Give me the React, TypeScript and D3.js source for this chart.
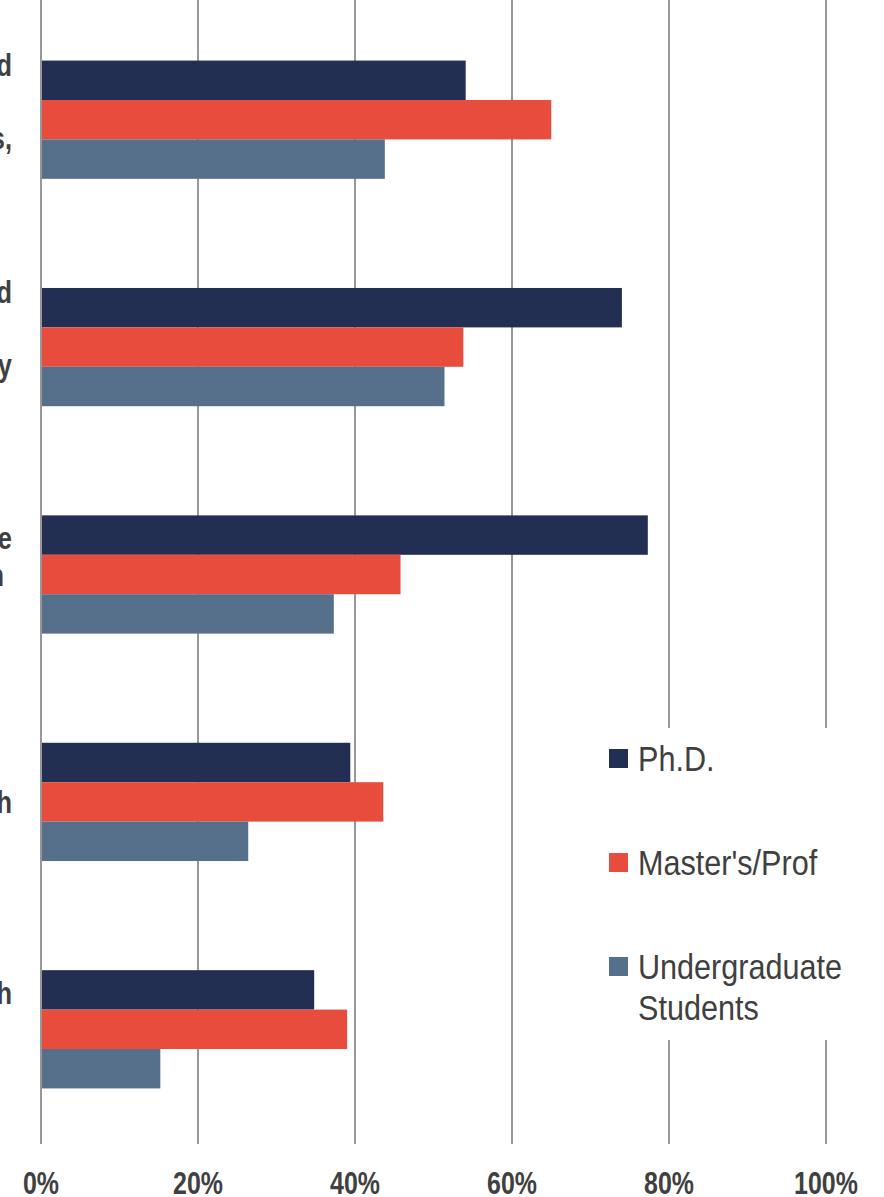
import React from "react";
import * as d3 from "d3";

const categories = ["c1", "c2", "c3", "c4", "c5"];
const series = ["Ph.D.", "Master's/Prof", "Undergraduate Students"];
const phd = [0.541, 0.74, 0.773, 0.394, 0.348];
const masters = [0.65, 0.538, 0.458, 0.436, 0.39];
const undergrad = [0.438, 0.514, 0.373, 0.264, 0.152];
const colors = ["#232f52", "#e84c3d", "#566f8b"];
const ticks = [0, 0.2, 0.4, 0.6, 0.8, 1.0];
// visible fragments of the (cropped) category labels, one entry per label line
const labelFragments = [
  ["d", "", "s,", ""],
  ["d", "", "y", ""],
  ["e", "n", ""],
  ["h"],
  ["h", "", ""],
];

const W = 884;
const H = 1197;
const FONT = "'Liberation Sans', Arial, sans-serif";

function NarrowText(props: {
  x: number;
  y: number;
  sx: number;
  anchor?: string;
  size: number;
  bold?: boolean;
  children: React.ReactNode;
}) {
  return (
    <text
      transform={`translate(${props.x},${props.y}) scale(${props.sx},1)`}
      textAnchor={props.anchor || "start"}
      fontFamily={FONT}
      fontWeight={props.bold ? "bold" : "normal"}
      fontSize={props.size}
      fill="#404040"
    >
      {props.children}
    </text>
  );
}

export default function App() {
  const x = d3.scaleLinear().domain([0, 1]).range([41, 826]);
  const y = d3.scaleBand().domain(categories).range([6, 1143]).paddingInner(0.48).paddingOuter(0.24);
  const inner = d3.scaleBand().domain(series).range([0, y.bandwidth()]);
  const values = [phd, masters, undergrad];
  const lineH = 36.5;

  return (
    <svg width={W} height={H} style={{ position: "absolute", left: 0, top: 0, background: "#fff" }}>
      {ticks.map((t) => (
        <line key={t} x1={x(t)} x2={x(t)} y1={0} y2={1144} stroke="#8c8c8c" strokeWidth={1.8} />
      ))}
      {categories.map((c, ci) =>
        series.map((s, si) => (
          <rect
            key={c + s}
            x={x(0) + 1}
            y={(y(c) as number) + (inner(s) as number)}
            width={x(values[si][ci]) - x(0) - 1}
            height={inner.bandwidth()}
            fill={colors[si]}
          />
        ))
      )}
      {categories.map((c, ci) => {
        const lines = labelFragments[ci];
        const center = (y(c) as number) + y.bandwidth() / 2;
        const first = center - ((lines.length - 1) * lineH) / 2 + 11;
        return lines.map((t, li) =>
          t ? (
            <NarrowText
              key={c + li}
              x={t === "n" ? 4 : 12}
              y={first + li * lineH}
              sx={0.82}
              anchor="end"
              size={31}
              bold
            >
              {t}
            </NarrowText>
          ) : null
        );
      })}
      {ticks.map((t) => (
        <NarrowText key={"t" + t} x={x(t)} y={1194} sx={0.78} anchor="middle" size={32} bold>
          {d3.format(".0%")(t)}
        </NarrowText>
      ))}
      <rect x={590} y={728} width={294} height={312} fill="#fff" />
      {series.map((s, si) => {
        const top = 749 + si * 104;
        const words = si === 2 ? ["Undergraduate", "Students"] : [s];
        return (
          <g key={s}>
            <rect x={609} y={top} width={19} height={19} fill={colors[si]} />
            {words.map((w, wi) => (
              <NarrowText key={w} x={638} y={top + 22 + wi * 41} sx={0.85} size={36}>
                {w}
              </NarrowText>
            ))}
          </g>
        );
      })}
    </svg>
  );
}
